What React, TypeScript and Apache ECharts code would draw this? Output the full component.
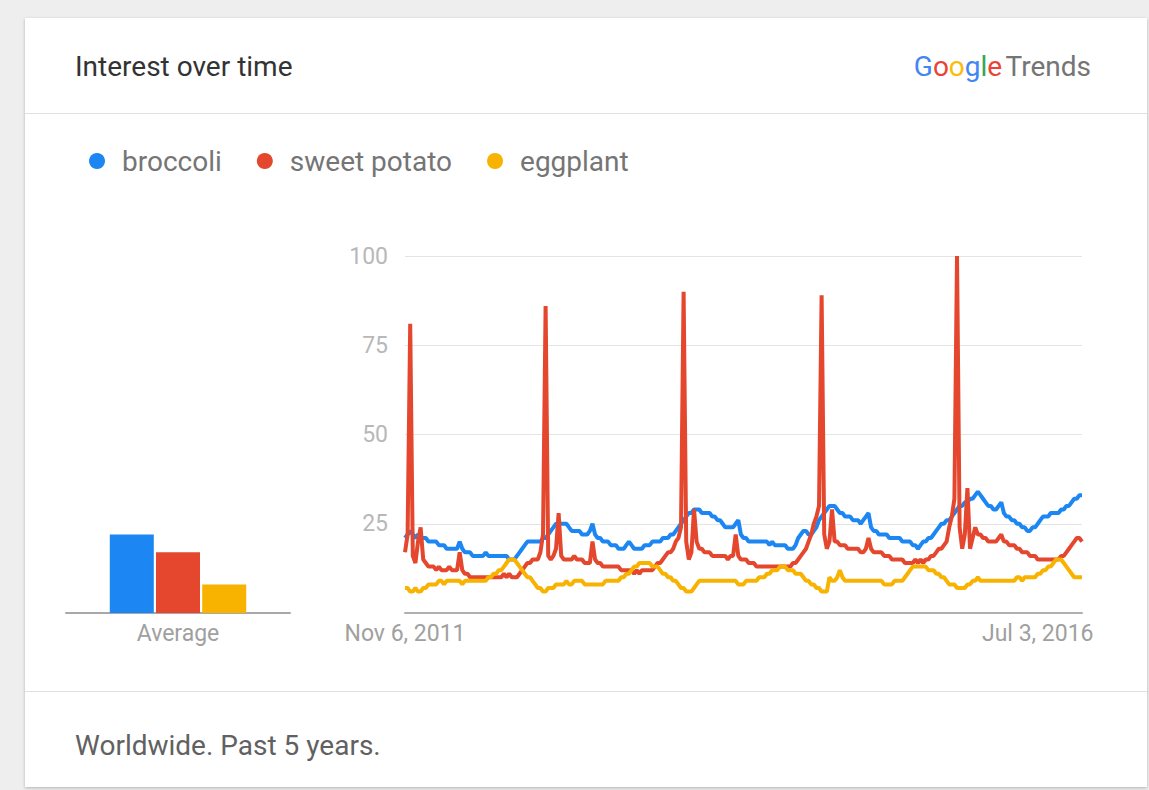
import React, { useEffect, useRef } from "react";
import * as echarts from "echarts";

const seriesNames = ["broccoli", "sweet potato", "eggplant"];
const seriesColors = ["#1c86f2", "#e4472e", "#f8b200"];
const startDate = "2011-11-06";
const weekCount = 261;
const xTickIndices = [0, 243];
const yTickValues = [25, 50, 75, 100];
const averageLabel = ["Average"];
const averages = [22, 17, 8];

const broccoli = [
  21, 22, 23, 22, 21, 22, 21, 21, 21, 20,
  20, 20, 20, 19, 19, 19, 18, 18, 18, 18,
  18, 20, 18, 17, 17, 17, 16, 16, 16, 16,
  16, 17, 16, 16, 16, 16, 16, 16, 16, 16,
  15, 15, 15, 16, 17, 18, 19, 20, 20, 20,
  20, 20, 20, 21, 21, 22, 23, 24, 25, 25,
  25, 25, 25, 24, 23, 23, 23, 23, 22, 22,
  22, 23, 25, 22, 21, 21, 20, 20, 20, 19,
  19, 19, 18, 18, 18, 19, 20, 19, 18, 18,
  18, 18, 19, 19, 19, 20, 20, 20, 20, 21,
  21, 21, 22, 22, 23, 24, 25, 26, 27, 28,
  28, 29, 29, 29, 28, 28, 28, 28, 27, 27,
  26, 26, 25, 24, 24, 24, 24, 25, 26, 22,
  21, 21, 20, 20, 20, 20, 20, 20, 20, 20,
  19, 20, 19, 19, 19, 19, 19, 18, 18, 18,
  19, 21, 22, 23, 23, 22, 22, 23, 24, 26,
  27, 28, 29, 30, 30, 30, 29, 28, 28, 27,
  27, 27, 26, 26, 26, 25, 26, 27, 28, 24,
  23, 23, 22, 22, 22, 22, 21, 21, 21, 21,
  21, 20, 20, 20, 20, 19, 19, 18, 19, 20,
  20, 21, 21, 22, 23, 24, 25, 25, 26, 26,
  27, 28, 29, 30, 30, 31, 31, 32, 32, 33,
  34, 33, 32, 31, 30, 30, 29, 29, 30, 31,
  28, 27, 27, 26, 26, 25, 25, 24, 24, 23,
  23, 24, 24, 25, 26, 27, 27, 27, 28, 28,
  28, 28, 29, 29, 30, 30, 31, 32, 32, 33, 33,
];

const sweetPotato = [
  17, 22, 81, 16, 14, 20, 24, 15, 14, 13,
  13, 13, 12, 13, 12, 12, 12, 13, 12, 12,
  12, 17, 12, 11, 11, 10, 10, 10, 10, 10,
  10, 10, 10, 10, 10, 10, 10, 10, 11, 10,
  11, 10, 10, 10, 11, 12, 13, 14, 14, 15,
  15, 15, 17, 22, 86, 16, 15, 16, 18, 28,
  16, 15, 15, 15, 15, 16, 15, 15, 15, 14,
  14, 14, 20, 15, 14, 14, 13, 13, 13, 13,
  13, 13, 13, 12, 12, 12, 12, 12, 11, 12,
  11, 12, 12, 12, 12, 12, 13, 14, 14, 15,
  16, 17, 17, 18, 20, 21, 24, 90, 20, 15,
  17, 29, 20, 18, 18, 17, 17, 17, 16, 16,
  16, 16, 16, 16, 15, 16, 16, 22, 16, 15,
  15, 15, 14, 14, 14, 13, 13, 13, 13, 13,
  13, 13, 13, 13, 13, 13, 13, 13, 13, 14,
  14, 15, 16, 17, 18, 20, 22, 25, 27, 30,
  89, 22, 18, 20, 29, 20, 20, 19, 19, 19,
  18, 18, 18, 18, 18, 17, 17, 18, 21, 18,
  17, 17, 17, 17, 16, 16, 16, 15, 15, 15,
  15, 15, 14, 14, 14, 14, 15, 14, 15, 14,
  15, 15, 16, 16, 17, 18, 18, 19, 20, 24,
  27, 32, 100, 24, 18, 22, 35, 18, 21, 24,
  22, 22, 21, 21, 20, 20, 20, 20, 21, 22,
  20, 20, 19, 19, 19, 18, 18, 17, 17, 17,
  16, 16, 16, 15, 15, 15, 15, 15, 15, 15,
  15, 15, 16, 16, 17, 18, 19, 20, 21, 21, 20,
];

const eggplant = [
  7, 7, 6, 6, 7, 6, 6, 7, 7, 8,
  8, 8, 8, 9, 9, 8, 9, 9, 9, 9,
  9, 9, 8, 9, 9, 9, 9, 9, 9, 9,
  9, 9, 10, 10, 11, 11, 12, 12, 13, 14,
  15, 15, 15, 14, 13, 12, 11, 10, 10, 9,
  8, 7, 7, 6, 6, 7, 7, 7, 8, 8,
  8, 8, 9, 8, 8, 9, 9, 9, 9, 8,
  8, 8, 8, 8, 8, 8, 8, 9, 9, 9,
  9, 9, 9, 10, 10, 11, 11, 12, 13, 13,
  14, 14, 14, 14, 14, 13, 13, 13, 12, 11,
  11, 10, 10, 9, 9, 8, 7, 7, 6, 6,
  6, 7, 8, 9, 9, 9, 9, 9, 9, 9,
  9, 9, 9, 9, 9, 9, 9, 9, 8, 8,
  8, 9, 9, 9, 9, 9, 10, 10, 10, 11,
  11, 12, 12, 12, 13, 13, 13, 12, 12, 12,
  11, 11, 11, 10, 9, 9, 8, 8, 7, 7,
  6, 6, 6, 10, 9, 9, 10, 12, 10, 9,
  9, 9, 9, 9, 9, 9, 9, 9, 9, 9,
  9, 9, 9, 9, 8, 8, 8, 8, 9, 9,
  9, 9, 10, 11, 12, 13, 13, 13, 13, 13,
  13, 12, 12, 12, 11, 11, 10, 10, 9, 8,
  8, 8, 7, 7, 7, 7, 8, 8, 9, 9,
  10, 9, 9, 9, 9, 9, 9, 9, 9, 9,
  9, 9, 9, 9, 9, 10, 10, 9, 10, 10,
  10, 10, 10, 11, 11, 12, 12, 13, 13, 14,
  15, 15, 15, 14, 13, 12, 11, 10, 10, 10, 10,
];

const seriesData = [broccoli, sweetPotato, eggplant];

const MONTHS = ["Jan", "Feb", "Mar", "Apr", "May", "Jun", "Jul", "Aug", "Sep", "Oct", "Nov", "Dec"];

function buildWeeks(): string[] {
  const out: string[] = [];
  const t0 = Date.parse(startDate + "T00:00:00Z");
  for (let i = 0; i < weekCount; i++) {
    const d = new Date(t0 + i * 7 * 86400000);
    out.push(`${MONTHS[d.getUTCMonth()]} ${d.getUTCDate()}, ${d.getUTCFullYear()}`);
  }
  return out;
}

const FONT = "Roboto, 'Noto Sans', sans-serif";
const BIG = 28;
const AXIS = 23;

export default function App() {
  const ref = useRef<HTMLDivElement>(null);

  useEffect(() => {
    if (!ref.current) return;
    const chart = echarts.init(ref.current, undefined, { renderer: "svg" });
    const weeks = buildWeeks();

    const barSeries = seriesNames.map((name, k) => ({
      type: "bar",
      name,
      xAxisIndex: 0,
      yAxisIndex: 0,
      data: [averages[k]],
      barWidth: 44,
      barGap: "5%",
      itemStyle: { color: seriesColors[k] },
    }));

    const lineSeries = seriesNames.map((name, k) => ({
      type: "line",
      name,
      xAxisIndex: 1,
      yAxisIndex: 1,
      data: seriesData[k],
      symbol: "none",
      showSymbol: false,
      lineStyle: { width: 4, color: seriesColors[k] },
      itemStyle: { color: seriesColors[k] },
    }));

    chart.setOption({
      animation: false,
      backgroundColor: "transparent",
      legend: {
        data: seriesNames,
        left: 84,
        top: 142,
        icon: "circle",
        itemWidth: 16,
        itemHeight: 16,
        itemGap: 35,
        textStyle: { fontSize: BIG, color: "#757575", fontFamily: FONT, padding: [0, 0, 0, 12] },
      },
      graphic: [
        {
          type: "text",
          x: 75,
          y: 66,
          style: {
            text: "Interest over time",
            fill: "#333333",
            fontSize: BIG,
            fontFamily: FONT,
            textVerticalAlign: "middle",
            textAlign: "left",
          },
        },
        {
          type: "text",
          x: 1091,
          y: 66,
          style: {
            text: "{b|G}{r|o}{y|o}{b|g}{g|l}{r|e} {t|Trends}",
            textAlign: "right",
            textVerticalAlign: "middle",
            rich: {
              b: { fill: "#4285F4", fontSize: BIG, fontFamily: FONT },
              r: { fill: "#EA4335", fontSize: BIG, fontFamily: FONT },
              y: { fill: "#FBBC05", fontSize: BIG, fontFamily: FONT },
              g: { fill: "#34A853", fontSize: BIG, fontFamily: FONT },
              t: { fill: "#757575", fontSize: BIG, fontFamily: FONT },
            },
          },
        },
        {
          type: "text",
          x: 75,
          y: 745,
          style: {
            text: "Worldwide. Past 5 years.",
            fill: "#616161",
            fontSize: BIG,
            fontFamily: FONT,
            textVerticalAlign: "middle",
            textAlign: "left",
          },
        },
      ],
      grid: [
        { left: 66, top: 256, width: 224, height: 357 },
        { left: 405, top: 256, width: 677, height: 357 },
      ],
      xAxis: [
        {
          gridIndex: 0,
          type: "category",
          data: averageLabel,
          axisLine: { lineStyle: { color: "#a8a8a8", width: 2 } },
          axisTick: { show: false },
          axisLabel: { color: "#a0a0a0", fontSize: AXIS, fontFamily: FONT, margin: 9 },
        },
        {
          gridIndex: 1,
          type: "category",
          data: weeks,
          boundaryGap: false,
          axisLine: { lineStyle: { color: "#b0b0b0", width: 2 } },
          axisTick: { show: false },
          axisLabel: {
            interval: (idx: number) => xTickIndices.includes(idx),
            color: "#a0a0a0",
            fontSize: AXIS,
            fontFamily: FONT,
            margin: 9,
          },
          splitLine: { show: false },
        },
      ],
      yAxis: [
        { gridIndex: 0, type: "value", min: 0, max: 100, show: false },
        {
          gridIndex: 1,
          type: "value",
          min: 0,
          max: 100,
          interval: 25,
          axisLine: { show: false },
          axisTick: { show: false },
          splitLine: { lineStyle: { color: "#e4e4e4", width: 1 } },
          axisLabel: {
            formatter: (v: number) => (yTickValues.includes(v) ? String(v) : ""),
            color: "#b8b8b8",
            fontSize: AXIS,
            fontFamily: FONT,
            margin: 17,
          },
        },
      ],
      series: [...barSeries, ...lineSeries],
    });

    return () => chart.dispose();
  }, []);

  return (
    <div style={{ position: "fixed", left: 0, top: 0, width: 1149, height: 790, background: "#eeeeee", overflow: "hidden" }}>
      <div
        style={{
          position: "absolute",
          left: 25,
          top: 18,
          width: 1122,
          height: 769,
          background: "#ffffff",
          boxShadow: "0 1px 3px rgba(0,0,0,0.25)",
        }}
      />
      <div style={{ position: "absolute", left: 25, top: 113, width: 1122, height: 1, background: "#e0e0e0" }} />
      <div style={{ position: "absolute", left: 25, top: 691, width: 1122, height: 1, background: "#e0e0e0" }} />
      <div ref={ref} style={{ position: "absolute", left: 0, top: 0, width: 1149, height: 790 }} />
    </div>
  );
}
